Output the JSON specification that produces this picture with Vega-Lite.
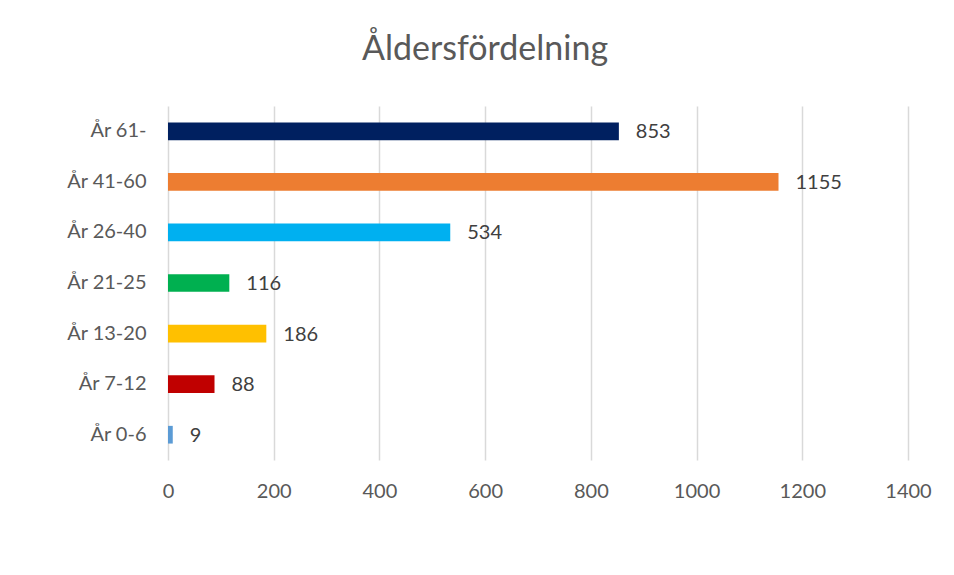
{
  "$schema": "https://vega.github.io/schema/vega-lite/v6.json",
  "width": 740,
  "height": 354,
  "autosize": "none",
  "padding": {"left": 168, "top": 106, "right": 46, "bottom": 115},
  "background": "white",
  "title": {
    "text": "Åldersfördelning",
    "font": "Lato",
    "fontSize": 34,
    "fontWeight": "normal",
    "color": "#595959",
    "anchor": "middle",
    "baseline": "alphabetic",
    "offset": 12,
    "dx": -53
  },
  "config": {
    "view": {"stroke": null},
    "axis": {"labelFont": "Lato", "labelColor": "#595959", "labelFontSize": 20, "domain": false, "ticks": false, "title": null}
  },
  "data": {
    "values": [
      {"grupp": "År 61-", "antal": 853},
      {"grupp": "År 41-60", "antal": 1155},
      {"grupp": "År 26-40", "antal": 534},
      {"grupp": "År 21-25", "antal": 116},
      {"grupp": "År 13-20", "antal": 186},
      {"grupp": "År 7-12", "antal": 88},
      {"grupp": "År 0-6", "antal": 9}
    ]
  },
  "encoding": {
    "y": {
      "field": "grupp",
      "type": "nominal",
      "sort": null,
      "scale": {"paddingInner": 0.65, "paddingOuter": 0.325},
      "axis": {"grid": false, "labelPadding": 22}
    },
    "x": {
      "field": "antal",
      "type": "quantitative",
      "scale": {"domain": [0, 1400], "nice": false},
      "axis": {"values": [0, 200, 400, 600, 800, 1000, 1200, 1400], "format": "d", "grid": true, "gridColor": "#d9d9d9", "gridWidth": 1.5, "labelPadding": 21, "labelFlush": false}
    }
  },
  "layer": [
    {
      "mark": {"type": "bar"},
      "encoding": {
        "color": {
          "field": "grupp",
          "type": "nominal",
          "legend": null,
          "scale": {
            "domain": ["År 61-", "År 41-60", "År 26-40", "År 21-25", "År 13-20", "År 7-12", "År 0-6"],
            "range": ["#002060", "#ED7D31", "#00B0F0", "#00B050", "#FFC000", "#C00000", "#5B9BD5"]
          }
        }
      }
    },
    {
      "mark": {"type": "text", "align": "left", "baseline": "middle", "dx": 17, "dy": 1, "font": "Lato", "fontSize": 20, "color": "#404040"},
      "encoding": {"text": {"field": "antal", "type": "quantitative"}}
    }
  ]
}
